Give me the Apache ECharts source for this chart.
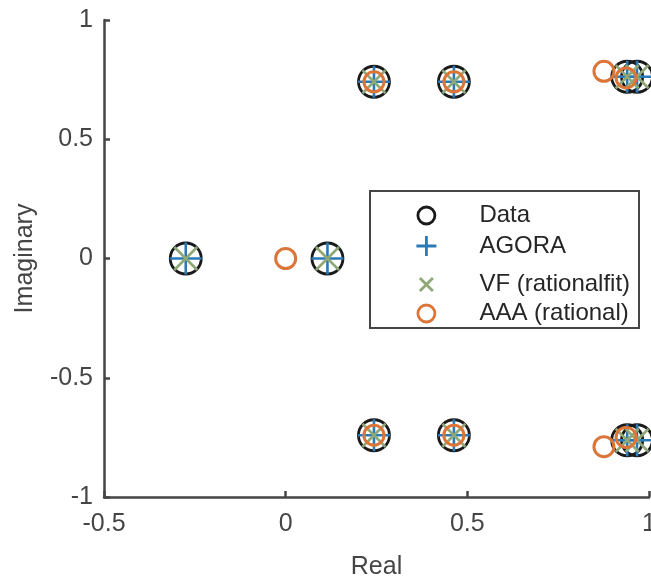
<!DOCTYPE html>
<html>
<head>
<meta charset="utf-8">
<script src="https://cdn.jsdelivr.net/npm/echarts@6/dist/echarts.min.js"></script>
<style>html,body{margin:0;padding:0;background:#fff}#c{width:651px;height:578px}</style>
</head>
<body>
<div id="c"></div>
<script>
// Data (pole locations: [real, imaginary])
const dataPoles = [[-0.275,0],[0.115,0],[0.243,0.741],[0.243,-0.741],[0.463,0.741],[0.463,-0.741],[0.94,0.762],[0.94,-0.762],[0.967,0.762],[0.967,-0.762]];
const agoraPoles = [[-0.275,0],[0.115,0],[0.243,0.741],[0.243,-0.741],[0.463,0.741],[0.463,-0.741],[0.94,0.762],[0.94,-0.762],[0.967,0.762],[0.967,-0.762]];
const vfPoles = [[-0.275,0],[0.115,0],[0.243,0.741],[0.243,-0.741],[0.463,0.741],[0.463,-0.741],[0.94,0.762],[0.94,-0.762],[0.967,0.762],[0.967,-0.762]];
const aaaPoles = [[0,0],[0.243,0.741],[0.243,-0.741],[0.463,0.741],[0.463,-0.741],[0.876,0.785],[0.876,-0.789],[0.937,0.757],[0.937,-0.75]];
const seriesNames = ['Data','AGORA','VF (rationalfit)','AAA (rational)'];
const xTicks = [-0.5, 0, 0.5, 1];
const yTicks = [-1, -0.5, 0, 0.5, 1];

const FONT = '"Liberation Sans", Arial, Helvetica, sans-serif';
const AX = '#454545';
const cBlack = '#1a1a1a', cBlue = '#2a7ab8', cGreen = '#8ea878', cOrange = '#dc7538';
const PLUS = 'path://M10,0 L10,20 M0,10 L20,10';
const CROSS = 'path://M0,0 L20,20 M20,0 L0,20';

const icons = [
  {name: seriesNames[0], icon:'circle', w:17, h:17, style:{color:'rgba(0,0,0,0)', borderColor:cBlack, borderWidth:2.8}, cy:212},
  {name: seriesNames[1], icon:PLUS, w:20, h:20, style:{color:'rgba(0,0,0,0)', borderColor:cBlue, borderWidth:2.8}, cy:244},
  {name: seriesNames[2], icon:CROSS, w:13, h:13, style:{color:'rgba(0,0,0,0)', borderColor:cGreen, borderWidth:2.8}, cy:279},
  {name: seriesNames[3], icon:'circle', w:17, h:17, style:{color:'rgba(0,0,0,0)', borderColor:cOrange, borderWidth:2.8}, cy:310}
];
const legends = icons.map(it => ({
  show:true, orient:'vertical', left: 425 - it.w/2, top: it.cy - it.h/2,
  itemWidth: it.w, itemHeight: it.h, padding:0, z:20, selectedMode:false,
  data:[{name: it.name, icon: it.icon, itemStyle: it.style}],
  textStyle:{fontFamily:FONT, fontSize:24, color:'#262626', padding:[0,0,0,48 - it.w/2]}
}));

const chart = echarts.init(document.getElementById('c'), null, {renderer:'canvas'});
chart.setOption({
  animation:false,
  backgroundColor:'#fff',
  grid:{left:104, right:2, top:20, bottom:81, containLabel:false, outerBoundsMode:'none'},
  xAxis:{
    type:'value', min:-0.5, max:1, interval:0.5,
    name:'Real', nameLocation:'middle', nameGap:58,
    nameTextStyle:{fontFamily:FONT, fontSize:25, color:AX},
    axisLine:{show:true, onZero:false, lineStyle:{color:AX, width:2.5}},
    axisTick:{show:true, inside:true, length:6, lineStyle:{color:AX, width:2.5}},
    axisLabel:{fontFamily:FONT, fontSize:25, color:AX, margin:15, formatter: v => String(xTicks.find(t => Math.abs(t-v)<1e-9) ?? v)},
    splitLine:{show:false}
  },
  yAxis:{
    type:'value', min:-1, max:1, interval:0.5,
    name:'Imaginary', nameLocation:'middle', nameGap:66, nameRotate:90,
    nameTextStyle:{fontFamily:FONT, fontSize:25, color:AX},
    axisLine:{show:true, onZero:false, lineStyle:{color:AX, width:2.5}},
    axisTick:{show:true, inside:true, length:6, lineStyle:{color:AX, width:2.5}},
    axisLabel:{fontFamily:FONT, fontSize:25, color:AX, margin:11, formatter: v => String(yTicks.find(t => Math.abs(t-v)<1e-9) ?? v)},
    splitLine:{show:false}
  },
  legend: legends,
  graphic:[{type:'rect', left:369, top:190, z:15, shape:{width:269, height:137}, style:{fill:'#fff', stroke:AX, lineWidth:2}}],
  series:[
    {name:seriesNames[0], type:'scatter', data:dataPoles, symbol:'circle', symbolSize:31, clip:false,
     itemStyle:{color:'rgba(0,0,0,0)', borderColor:cBlack, borderWidth:2.8, opacity:1}, z:2},
    {name:seriesNames[1], type:'scatter', data:agoraPoles, symbol:PLUS, symbolSize:32, clip:false,
     itemStyle:{color:'rgba(0,0,0,0)', borderColor:cBlue, borderWidth:2.6, opacity:1}, z:3},
    {name:seriesNames[2], type:'scatter', data:vfPoles, symbol:CROSS, symbolSize:23, clip:false,
     itemStyle:{color:'rgba(0,0,0,0)', borderColor:cGreen, borderWidth:2.6, opacity:1}, z:4},
    {name:seriesNames[3], type:'scatter', data:aaaPoles, symbol:'circle', symbolSize:20, clip:false,
     itemStyle:{color:'rgba(0,0,0,0)', borderColor:cOrange, borderWidth:3, opacity:1}, z:5}
  ]
});
</script>
</body>
</html>
